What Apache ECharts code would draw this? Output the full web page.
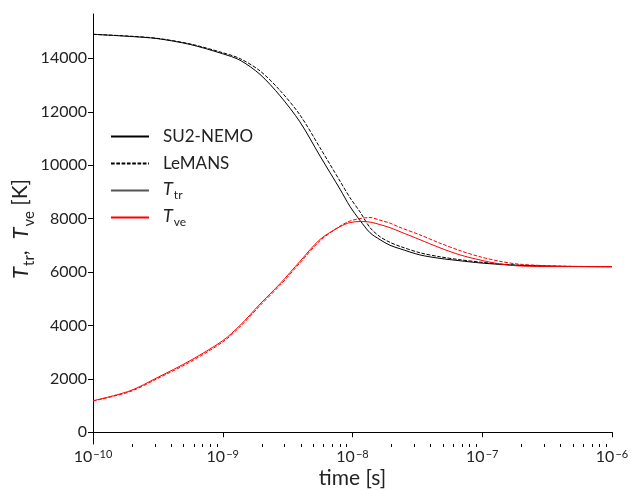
<!DOCTYPE html>
<html>
<head>
<meta charset="utf-8">
<script src="https://cdn.jsdelivr.net/npm/echarts@6/dist/echarts.min.js"></script>
<style>
  html, body { margin: 0; padding: 0; background: #fff; }
  #chart { width: 631px; height: 490px; }
</style>
</head>
<body>
<div id="chart"></div>
<script>
// Time grid as log10(t / s)
const logTime = [-10.000, -9.715, -9.507, -9.252, -9.000, -8.867, -8.713, -8.559, -8.405, -8.250,
                 -8.096, -8.019, -7.942, -7.865, -7.788, -7.711, -7.634, -7.480, -7.326, -7.171,
                 -7.017, -6.863, -6.709, -6.401, -6.000];

// Translational-rotational temperature [K]
const ttrSU2 = [14900, 14820, 14740, 14520, 14170, 13930, 13400, 12600, 11620, 10340,
                9100, 8450, 7930, 7470, 7210, 7000, 6870, 6640, 6510, 6420,
                6340, 6285, 6245, 6210, 6200];
const ttrLeMANS = [14900, 14830, 14750, 14540, 14210, 13990, 13530, 12800, 11880, 10650,
                   9400, 8780, 8250, 7660, 7320, 7110, 6960, 6720, 6570, 6460,
                   6370, 6300, 6255, 6215, 6200];

// Vibrational-electronic temperature [K]
const tveSU2 = [1180, 1550, 2040, 2680, 3430, 4000, 4800, 5560, 6400, 7220,
                7700, 7850, 7890, 7870, 7775, 7660, 7510, 7210, 6905, 6640,
                6450, 6300, 6225, 6205, 6200];
const tveLeMANS = [1170, 1520, 2000, 2630, 3380, 3950, 4740, 5500, 6340, 7170,
                   7720, 7910, 8000, 8040, 7940, 7830, 7670, 7390, 7080, 6800,
                   6570, 6400, 6290, 6220, 6200];

// Axis ticks
const xDecades = [-10, -9, -8, -7, -6];
const yTicks = [0, 2000, 4000, 6000, 8000, 10000, 12000, 14000];

const FONT = 'Lato';
const INK = '#222';

// minor log ticks: 2..9 within each decade
const xMinor = [];
for (let d = -10; d < -6; d++) {
  for (let k = 2; k <= 9; k++) xMinor.push(d + Math.log10(k));
}

const pairs = (ys) => logTime.map((x, i) => [x, ys[i]]);

const lineSeries = (name, ys, color, type, width) => ({
  name: name,
  type: 'line',
  data: pairs(ys),
  showSymbol: false,
  symbol: 'none',
  smooth: 0.3,
  lineStyle: { color: color, width: width || 1, type: type },
  itemStyle: { color: color },
  emphasis: { disabled: true },
  silent: true,
  z: 3
});

const chart = echarts.init(document.getElementById('chart'), null, { renderer: 'canvas' });

chart.setOption({
  animation: false,
  backgroundColor: '#fff',
  grid: { left: 93, right: 19, top: 14, bottom: 46, containLabel: false, outerBoundsMode: 'none' },
  legend: {
    data: ['SU2-NEMO', 'LeMANS', 'T_tr', 'T_ve'],
    orient: 'vertical',
    left: 105,
    top: 121,
    itemWidth: 38,
    itemHeight: 14,
    itemGap: 6,
    selectedMode: false,
    itemStyle: { opacity: 0, borderWidth: 0 },
    formatter: function (name) {
      if (name === 'T_tr') return '{i|T}{s|tr}';
      if (name === 'T_ve') return '{i|T}{s|ve}';
      return name;
    },
    textStyle: {
      fontFamily: FONT, fontSize: 17, color: INK, lineHeight: 21,
      padding: [0, 0, 0, 9],
      rich: {
        i: { fontFamily: FONT, fontSize: 18, fontStyle: 'italic', color: INK, lineHeight: 21, verticalAlign: 'top' },
        s: { fontFamily: FONT, fontSize: 12, color: INK, lineHeight: 12, padding: [9, 0, 0, 1], verticalAlign: 'top' }
      }
    }
  },
  xAxis: [{
    type: 'value',
    min: -10, max: -6, interval: 1,
    position: 'bottom',
    name: 'time [s]',
    nameLocation: 'middle',
    nameGap: 24,
    nameMoveOverlap: false,
    nameTextStyle: { fontFamily: FONT, fontSize: 21, color: INK },
    axisLine: { show: true, lineStyle: { color: '#000', width: 1 } },
    axisTick: { show: true, length: 5, lineStyle: { color: '#000', width: 1 } },
    splitLine: { show: false },
    axisLabel: {
      margin: 5,
      color: INK,
      formatter: (v) => '{b|10}{p|' + String(v).replace('-', '\u2212') + '}',
      rich: {
        b: { fontFamily: FONT, fontSize: 16, color: INK, lineHeight: 22, verticalAlign: 'top' },
        p: { fontFamily: FONT, fontSize: 11, color: INK, lineHeight: 12, verticalAlign: 'top', padding: [0, 0, 0, 1] }
      }
    }
  }, {
    type: 'value',
    min: -10, max: -6,
    position: 'bottom',
    axisLine: { show: false },
    axisLabel: { show: false },
    splitLine: { show: false },
    axisTick: { show: true, length: 3, customValues: xMinor, lineStyle: { color: '#000', width: 1 } }
  }],
  yAxis: {
    type: 'value',
    min: -440, max: 15660,
    name: '{i|T}{s|tr}{n|,  }{i|T}{s|ve}{n| [K]}',
    nameLocation: 'middle',
    nameRotate: 90,
    nameGap: 57,
    nameMoveOverlap: false,
    nameTextStyle: {
      fontFamily: FONT, fontSize: 21, color: INK,
      rich: {
        i: { fontFamily: FONT, fontSize: 22, fontStyle: 'italic', color: INK, lineHeight: 26, verticalAlign: 'top' },
        s: { fontFamily: FONT, fontSize: 15, color: INK, lineHeight: 15, padding: [12, 0, 0, 1], verticalAlign: 'top' },
        n: { fontFamily: FONT, fontSize: 21, color: INK, lineHeight: 26, verticalAlign: 'top' }
      }
    },
    axisLine: { show: true, lineStyle: { color: '#000', width: 1 } },
    axisTick: { show: true, length: 5, customValues: yTicks, lineStyle: { color: '#000', width: 1 } },
    splitLine: { show: false },
    axisLabel: {
      customValues: yTicks,
      margin: 6,
      fontFamily: FONT, fontSize: 16, color: INK,
      formatter: (v) => String(v)
    }
  },
  series: [
    lineSeries('SU2-NEMO', ttrSU2, '#000', 'solid'),
    lineSeries('LeMANS', ttrLeMANS, '#000', [3.7, 1.6]),
    Object.assign(lineSeries('T_tr', [], '#555', 'solid', 1.5), { data: [] }),
    lineSeries('T_ve', tveSU2, '#ff0000', 'solid'),
    lineSeries('T_ve LeMANS', tveLeMANS, '#ff0000', [3.7, 1.6])
  ]
});
</script>
</body>
</html>
